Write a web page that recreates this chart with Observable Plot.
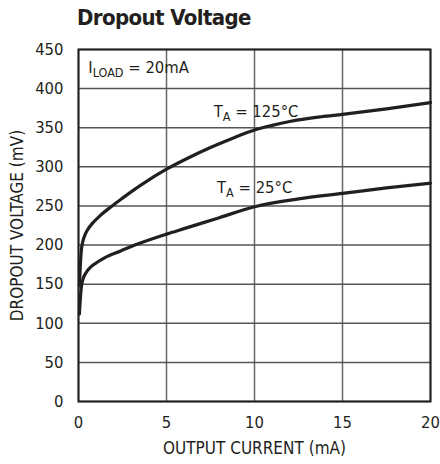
<!DOCTYPE html>
<html>
<head>
<meta charset="utf-8">
<script src="https://cdn.jsdelivr.net/npm/d3@7"></script>
<script src="https://cdn.jsdelivr.net/npm/@observablehq/plot@0.6"></script>
<style>
  html, body { margin: 0; padding: 0; background: #fff; }
  #wrap { width: 440px; height: 464px; position: relative; font-family: "DejaVu Sans Condensed", "DejaVu Sans", sans-serif; color: #231f20; }
  #title { height: 38px; box-sizing: border-box; padding-left: 77px; padding-top: 5px; font-size: 22px; font-weight: bold; letter-spacing: -0.6px; line-height: 25px; }
  svg { display: block; }
</style>
</head>
<body>
<div id="wrap">
  <div id="title">Dropout Voltage</div>
  <div id="chart"></div>
</div>
<script>
// Output current (mA) and dropout voltage (mV) at TA = 125°C
const current125 = [0.05, 0.1, 0.16, 0.25, 0.35, 0.5, 0.8, 1.2, 1.85, 2.5, 3.5, 5, 6.2, 7.53, 8.8, 10, 11, 12, 13.8, 15, 17.5, 20];
const dropout125 = [148, 172, 193, 205, 212, 219, 228, 237, 249, 260, 276, 297, 311, 325, 337, 347, 353, 358, 364, 367, 374, 382];

// Output current (mA) and dropout voltage (mV) at TA = 25°C
const current25 = [0.05, 0.1, 0.16, 0.25, 0.44, 0.7, 1.0, 1.5, 2.4, 3.2, 5, 6, 8, 10, 12.5, 15, 17.5, 20];
const dropout25 = [112, 130, 146, 156, 165, 172, 177, 184, 192.5, 200, 214, 221, 235, 249, 259, 266, 273, 279];

const xTicks = [0, 5, 10, 15, 20];
const yTicks = [0, 50, 100, 150, 200, 250, 300, 350, 400, 450];

// Annotations (data coordinates of the text baseline start)
const annotX = [0.56, 7.68, 7.87];
const annotY = [419.7, 363.5, 266];
const annotMain = ["I", "T", "T"];
const annotSub = ["LOAD", "A", "A"];
const annotRest = [" = 20mA", " = 125°C", " = 25°C"];

const s125 = current125.map((x, i) => ({x, y: dropout125[i]}));
const s25 = current25.map((x, i) => ({x, y: dropout25[i]}));
const annots = annotX.map((x, i) => ({x, y: annotY[i], text: annotMain[i] + annotSub[i] + annotRest[i]}));

const ink = "#231f20";
const font = "'DejaVu Sans Condensed', 'DejaVu Sans', sans-serif";
const plot = Plot.plot({
  width: 440,
  height: 426,
  marginTop: 11,
  marginBottom: 63,
  marginLeft: 78,
  marginRight: 10,
  style: {fontFamily: font, fontSize: "16.5px", color: ink, background: "white"},
  x: {domain: [0, 20], ticks: xTicks},
  y: {domain: [0, 450], ticks: yTicks},
  marks: [
    Plot.gridX(xTicks, {stroke: "#666", strokeOpacity: 1, strokeWidth: 1.5}),
    Plot.gridY(yTicks, {stroke: "#555", strokeOpacity: 1, strokeWidth: 1.5}),
    Plot.frame({stroke: ink, strokeWidth: 2}),
    Plot.axisX(xTicks, {tickSize: 0, tickPadding: 15, label: null, fill: ink, fontSize: 16.5}),
    Plot.axisY(yTicks, {tickSize: 0, tickPadding: 15, label: null, fill: ink, fontSize: 16.5}),
    Plot.text(["OUTPUT CURRENT (mA)"], {frameAnchor: "bottom", textAnchor: "middle", dy: 52, lineAnchor: "bottom", fill: ink, fontSize: 17}),
    Plot.text(["DROPOUT VOLTAGE (mV)"], {frameAnchor: "left", textAnchor: "middle", lineAnchor: "middle", dx: -61, rotate: -90, fill: ink, fontSize: 17}),
    Plot.line(s125, {x: "x", y: "y", curve: "monotone-x", stroke: ink, strokeWidth: 3.2}),
    Plot.line(s25, {x: "x", y: "y", curve: "monotone-x", stroke: ink, strokeWidth: 3.2}),
    Plot.text(annots, {x: "x", y: "y", text: "text", textAnchor: "start", lineAnchor: "bottom", fill: ink, fontSize: 16.5})
  ]
});
document.getElementById("chart").appendChild(plot);

// Rebuild annotation texts with a subscript tspan (still real text)
const ns = "http://www.w3.org/2000/svg";
plot.querySelectorAll("text").forEach((t) => {
  const i = annots.findIndex((a) => a.text === t.textContent);
  if (i < 0) return;
  while (t.firstChild) t.removeChild(t.firstChild);
  const a = document.createElementNS(ns, "tspan");
  a.textContent = annotMain[i];
  const b = document.createElementNS(ns, "tspan");
  b.textContent = annotSub[i];
  b.setAttribute("font-size", "12.5");
  b.setAttribute("dy", "4");
  const c = document.createElementNS(ns, "tspan");
  c.textContent = annotRest[i];
  c.setAttribute("dy", "-4");
  t.appendChild(a); t.appendChild(b); t.appendChild(c);
});
</script>
</body>
</html>
